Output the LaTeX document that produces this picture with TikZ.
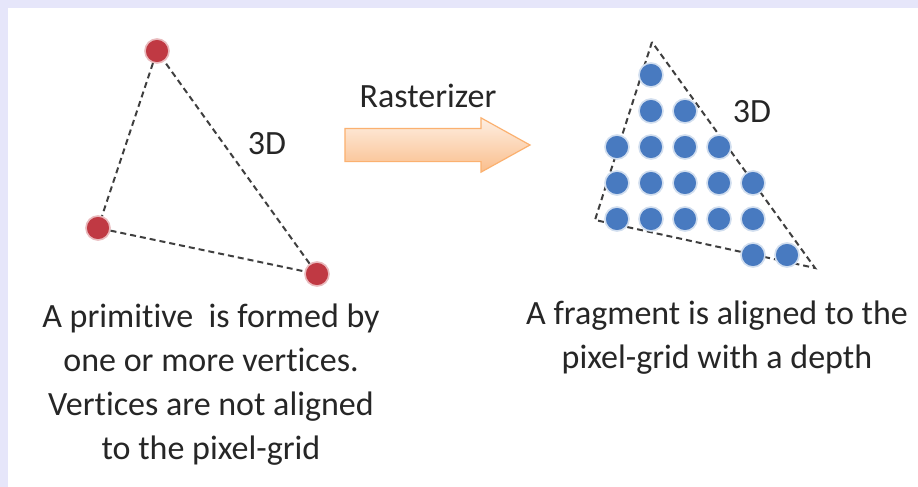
\documentclass[tikz,border=0pt]{standalone}
\usepackage{fontspec}
\setmainfont{Carlito}[Ligatures=NoCommon,Contextuals=NoAlternate]
\usepackage{tikz}
\usetikzlibrary{arrows.meta,positioning,shapes.arrows,shapes.geometric}
\usepackage{xcolor}
\definecolor{frameband}{HTML}{E6E6FA}
\definecolor{vertexred}{RGB}{192,57,67}
\definecolor{fragblue}{RGB}{72,122,192}
\definecolor{edgegray}{HTML}{3F3F3F}
\definecolor{captiongray}{HTML}{262626}
\definecolor{arrowpeach}{RGB}{250,190,140}

\begin{document}
\begin{tikzpicture}[x=0.5pt,y=-0.5pt,
    caption/.style={font=\fontsize{17}{22}\selectfont, text=captiongray, align=center, inner sep=0pt},
    vertexdot/.style={circle, fill=vertexred, draw=vertexred!35, line width=0.8pt, minimum size=12pt, inner sep=0pt},
    fragdot/.style={circle, fill=fragblue, draw=fragblue!25, line width=0.8pt, minimum size=12pt, inner sep=0pt},
    triedge/.style={edgegray, line width=1pt, dash pattern=on 3pt off 2pt},
    rastarrow/.style={single arrow, single arrow head extend=5.25pt, single arrow tip angle=58,
      minimum height=92.5pt, minimum width=26.5pt, inner xsep=0pt, inner ysep=8pt,
      text height=0pt, text depth=0pt, top color=arrowpeach!25, bottom color=arrowpeach,
      shading angle=0, draw=arrowpeach!80!orange, line width=0.6pt}]
  \useasboundingbox (0,0) rectangle (918,487);
  \fill[frameband] (0,0) rectangle (918,487);
  \fill[white] (8,8) rectangle (918,487);

  % primitive: three loose vertices
  \node[vertexdot] (vtop) at (157,51) {};
  \node[vertexdot] (vleft) at (98,228) {};
  \node[vertexdot] (vright) at (317,274) {};
  \draw[triedge] (vtop) -- (vleft);
  \draw[triedge] (vleft) -- (vright);
  \draw[triedge] (vright) -- (vtop);
  \node[caption, anchor=base] (prim3d) at (267,155) {3D};

  % rasterizer step
  \node[rastarrow] (rast) at (422.5,145) {};
  \node[caption, anchor=base] (rastlabel) at (428,107) {Rasterizer};

  % fragments on the pixel grid
  \coordinate (fapex) at (652,42);
  \coordinate (fleft) at (595,220);
  \coordinate (fright) at (815,268);
  \draw[triedge] (fapex) -- (fleft) -- (fright) -- cycle;
  \foreach \r/\cols in {1/{1}, 2/{1,2}, 3/{0,...,3}, 4/{0,...,4}, 5/{0,...,4}, 6/{4,5}} {
    \foreach \c in \cols {
      \node[fragdot] (frag-\r-\c) at ({617+34*\c},{39+36*\r}) {};
    }
  }
  \node[caption, anchor=base] (frag3d) at (752,122) {3D};

  % captions
  \node[caption, anchor=base] (primtext) at (211,327) {A primitive~ is formed by};
  \node[caption, below=0pt of primtext.base, anchor=base, yshift=-22pt] (primtext2) {one or more vertices.};
  \node[caption, below=0pt of primtext2.base, anchor=base, yshift=-22pt] (primtext3) {Vertices are not aligned};
  \node[caption, below=0pt of primtext3.base, anchor=base, yshift=-22pt] (primtext4) {to the pixel-grid};
  \node[caption, anchor=base] (fragtext) at (717,324) {A fragment is aligned to the};
  \node[caption, below=0pt of fragtext.base, anchor=base, yshift=-22pt] (fragtext2) {pixel-grid with a depth};
\end{tikzpicture}
\end{document}
